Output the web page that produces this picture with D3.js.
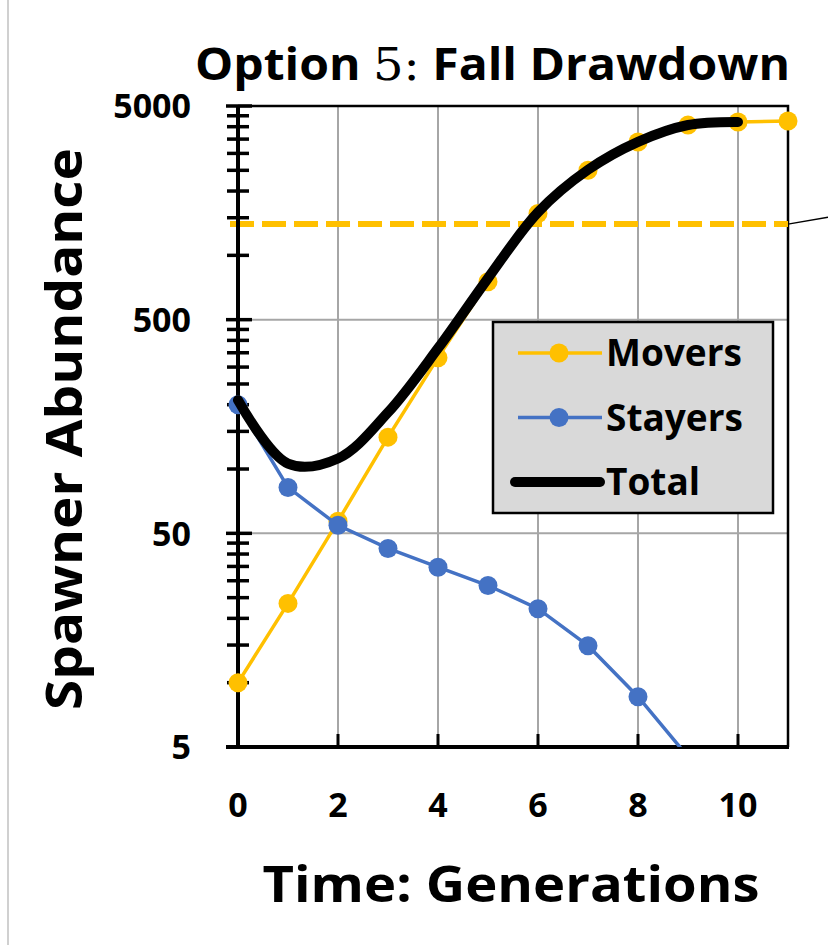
<!DOCTYPE html>
<html>
<head>
<meta charset="utf-8">
<script src="https://cdn.jsdelivr.net/npm/d3@7"></script>
<style>
  html, body { margin: 0; padding: 0; background: #fff; }
  svg { display: block; font-family: "Open Sans", "Noto Sans", sans-serif; }
</style>
</head>
<body>
<svg width="828" height="945"></svg>
<script>
// data
const generations = [0, 1, 2, 3, 4, 5, 6, 7, 8, 9, 10, 11];
const movers = [10, 23.5, 57, 141, 332, 753, 1570, 2500, 3390, 4070, 4210, 4250];
const stayers = [200, 82, 54.5, 42.5, 34.7, 28.5, 22.2, 14.9, 8.6, 4.5];
const total = [210, 106, 112, 184, 367, 782, 1592, 2515, 3399, 4075, 4212];
const target = 1400;
const xTicks = [0, 2, 4, 6, 8, 10];
const yTicks = [5, 50, 500, 5000];
const yMinor = [5, 50, 500].flatMap(b => [2, 3, 4, 5, 6, 7, 8, 9].map(k => b * k));

const yellow = "#FFC000";
const blue = "#4472C4";

const svg = d3.select("svg");

const x = d3.scaleLinear().domain([0, 11]).range([238, 788]);
const y = d3.scaleLog().domain([5, 5000]).range([747, 106]);

// frame of the picture
svg.append("line")
  .attr("x1", 8).attr("x2", 8).attr("y1", 0).attr("y2", 945)
  .attr("stroke", "#d0d0d0").attr("stroke-width", 2);

// GRID
svg.append("g")
  .selectAll("line")
  .data(xTicks.slice(1))
  .join("line")
  .attr("x1", d => x(d)).attr("x2", d => x(d))
  .attr("y1", y(5000)).attr("y2", y(5))
  .attr("stroke", "#a6a6a6").attr("stroke-width", 2);

svg.append("g")
  .selectAll("line")
  .data([50, 500])
  .join("line")
  .attr("x1", x(0)).attr("x2", x(11))
  .attr("y1", d => y(d)).attr("y2", d => y(d))
  .attr("stroke", "#a6a6a6").attr("stroke-width", 2);

// top and right border
svg.append("path")
  .attr("d", `M${x(0)},${y(5000)}H${x(11)}V${y(5)}`)
  .attr("fill", "none").attr("stroke", "#000").attr("stroke-width", 2.5);

// target dashed line
svg.append("line")
  .attr("x1", x(0) - 8).attr("x2", x(11))
  .attr("y1", y(target)).attr("y2", y(target))
  .attr("stroke", yellow).attr("stroke-width", 6)
  .attr("stroke-dasharray", "24 8");

// leader line to the right edge
svg.append("line")
  .attr("x1", x(11)).attr("y1", y(target))
  .attr("x2", 828).attr("y2", y(target) - 7)
  .attr("stroke", "#000").attr("stroke-width", 1.5);

// AXES
const yAxis = svg.append("g").attr("transform", `translate(${x(0)},0)`);
yAxis.selectAll("line.minor")
  .data(yMinor)
  .join("line")
  .attr("class", "minor")
  .attr("x1", -11).attr("x2", 11)
  .attr("y1", d => y(d)).attr("y2", d => y(d))
  .attr("stroke", "#000").attr("stroke-width", 3.5);
yAxis.selectAll("line.major")
  .data(yTicks)
  .join("line")
  .attr("class", "major")
  .attr("x1", -12).attr("x2", 14)
  .attr("y1", d => y(d)).attr("y2", d => y(d))
  .attr("stroke", "#000").attr("stroke-width", 3.5);
yAxis.append("line")
  .attr("y1", y(5000) - 1).attr("y2", y(5) + 1)
  .attr("stroke", "#000").attr("stroke-width", 4);

svg.append("g")
  .selectAll("text")
  .data(yTicks)
  .join("text")
  .attr("x", 191)
  .attr("y", d => y(d))
  .attr("dy", "0.36em")
  .attr("text-anchor", "end")
  .attr("font-size", 34)
  .attr("font-weight", 700)
  .text(d => d);

const xAxis = svg.append("g").attr("transform", `translate(0,${y(5)})`);
xAxis.selectAll("line")
  .data(xTicks)
  .join("line")
  .attr("x1", d => x(d)).attr("x2", d => x(d))
  .attr("y1", -13).attr("y2", 0)
  .attr("stroke", "#000").attr("stroke-width", 3);
xAxis.append("line")
  .attr("x1", x(0) - 12).attr("x2", x(11) + 1)
  .attr("stroke", "#000").attr("stroke-width", 4);

svg.append("g")
  .selectAll("text")
  .data(xTicks)
  .join("text")
  .attr("x", d => x(d))
  .attr("y", 805)
  .attr("dy", "0.36em")
  .attr("text-anchor", "middle")
  .attr("font-size", 34)
  .attr("font-weight", 700)
  .text(d => d);

// SERIES
const plot = svg.append("g");
svg.append("clipPath").attr("id", "clip")
  .append("rect")
  .attr("x", x(0) - 12).attr("y", y(5000) - 12)
  .attr("width", x(11) - x(0) + 24).attr("height", y(5) - y(5000) + 12);
plot.attr("clip-path", "url(#clip)");

const line = d3.line()
  .x((d, i) => x(generations[i]))
  .y(d => y(d));

function series(values, color) {
  plot.append("path")
    .datum(values)
    .attr("d", line)
    .attr("fill", "none")
    .attr("stroke", color)
    .attr("stroke-width", 3.5);
  plot.append("g")
    .selectAll("circle")
    .data(values)
    .join("circle")
    .attr("cx", (d, i) => x(generations[i]))
    .attr("cy", d => y(d))
    .attr("r", 9.5)
    .attr("fill", color);
}

series(movers, yellow);
series(stayers, blue);

plot.append("path")
  .datum(total)
  .attr("d", line.curve(d3.curveCatmullRom.alpha(0.5)))
  .attr("fill", "none")
  .attr("stroke", "#000")
  .attr("stroke-width", 10)
  .attr("stroke-linecap", "round");

// LEGEND
const legend = svg.append("g");
legend.append("rect")
  .attr("x", 493).attr("y", 322)
  .attr("width", 280).attr("height", 191)
  .attr("fill", "#d9d9d9")
  .attr("stroke", "#000").attr("stroke-width", 2.5);

const items = [
  { name: "Movers", color: yellow, dot: true },
  { name: "Stayers", color: blue, dot: true },
  { name: "Total", color: "#000", dot: false }
];

const item = legend.selectAll("g.item")
  .data(items)
  .join("g")
  .attr("class", "item")
  .attr("transform", (d, i) => `translate(0,${353 + i * 64.5})`);

item.append("line")
  .attr("x1", d => d.dot ? 518 : 515).attr("x2", d => d.dot ? 602 : 600)
  .attr("stroke", d => d.color)
  .attr("stroke-width", d => d.dot ? 3.5 : 10)
  .attr("stroke-linecap", d => d.dot ? "butt" : "round");

item.filter(d => d.dot)
  .append("circle")
  .attr("cx", 559).attr("r", 9.5)
  .attr("fill", d => d.color);

item.append("text")
  .attr("x", 606)
  .attr("dy", "0.36em")
  .attr("font-size", 37)
  .attr("font-weight", 700)
  .text(d => d.name);

// TITLES
const title = svg.append("text")
  .attr("x", 195).attr("y", 80)
  .attr("font-size", 44)
  .attr("font-weight", 700)
  .attr("textLength", 595)
  .attr("lengthAdjust", "spacingAndGlyphs");
title.append("tspan").text("Option ");
title.append("tspan")
  .attr("font-family", "'DejaVu Serif', serif")
  .attr("font-weight", 400)
  .text("5:");
title.append("tspan").text(" Fall Drawdown");

svg.append("text")
  .attr("transform", "translate(82,429) rotate(-90)")
  .attr("text-anchor", "middle")
  .attr("font-size", 50)
  .attr("font-weight", 700)
  .attr("textLength", 562)
  .attr("lengthAdjust", "spacingAndGlyphs")
  .text("Spawner Abundance");

svg.append("text")
  .attr("x", 511).attr("y", 902)
  .attr("text-anchor", "middle")
  .attr("font-size", 51)
  .attr("font-weight", 700)
  .attr("textLength", 497)
  .attr("lengthAdjust", "spacingAndGlyphs")
  .text("Time: Generations");
</script>
</body>
</html>
